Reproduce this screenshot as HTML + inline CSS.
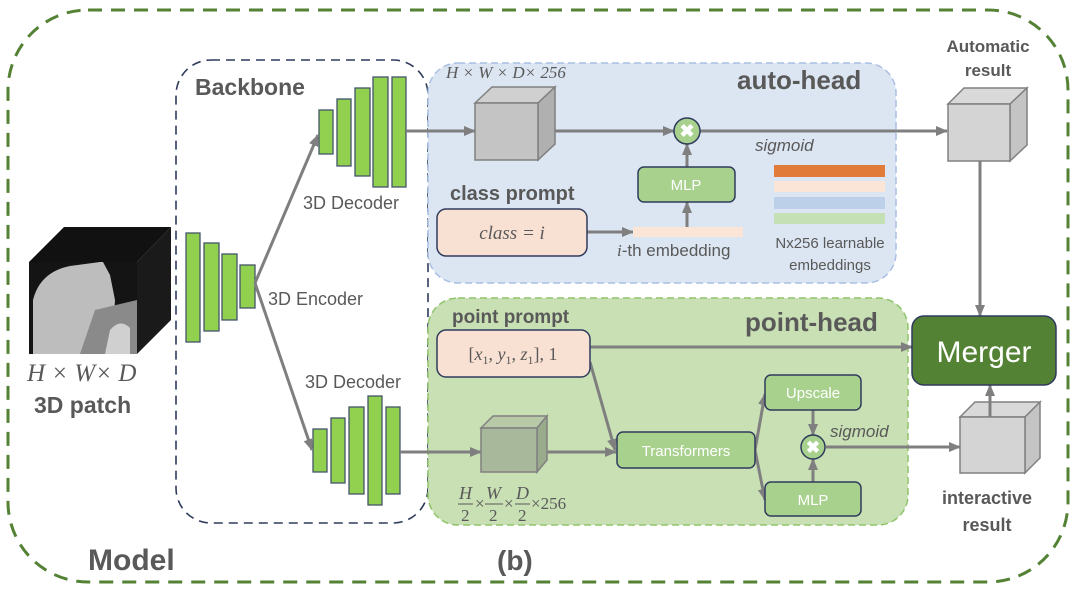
<!DOCTYPE html>
<html><head><meta charset="utf-8"><style>
html,body{margin:0;padding:0;background:#fff;}
svg{display:block;font-family:"Liberation Sans",sans-serif;}
.b{font-weight:bold;fill:#595959;}
.t{fill:#595959;}
.m{font-family:"Liberation Serif",serif;font-style:italic;fill:#595959;}
</style></head><body>
<svg width="1080" height="596" viewBox="0 0 1080 596" xmlns="http://www.w3.org/2000/svg">
<defs>
<marker id="a" markerWidth="12" markerHeight="10" refX="11" refY="5" orient="auto" markerUnits="userSpaceOnUse"><path d="M0,0 L12,5 L0,10 z" fill="#7f7f7f"/></marker>
</defs>
<rect x="8" y="10" width="1060" height="572" rx="80" fill="none" stroke="#548235" stroke-width="3" stroke-dasharray="14,9"/>
<rect x="176" y="60" width="252" height="463" rx="35" fill="none" stroke="#2f3b5c" stroke-width="1.6" stroke-dasharray="9,6"/>
<text x="195" y="95" class="b" font-size="23">Backbone</text>
<rect x="428" y="63" width="468" height="220" rx="30" fill="#dce6f2" stroke="#a9bfe3" stroke-width="1.5" stroke-dasharray="7,4"/>
<rect x="428" y="298" width="480" height="227" rx="30" fill="#c9e0b5" stroke="#8fc46a" stroke-width="1.5" stroke-dasharray="7,4"/>
<text x="737" y="89" class="b" font-size="26">auto-head</text>
<text x="745" y="331" class="b" font-size="26">point-head</text>
<!-- CT cube -->
<polygon points="29,262 64,227 171,227 137,262" fill="#111"/>
<polygon points="137,262 171,227 171,320 137,354" fill="#1a1a1a"/>
<rect x="29" y="262" width="108" height="92" fill="#141414"/>
<path d="M33,354 L33,300 Q40,272 70,266 L100,262 L103,262 L110,275 L115,300 L112,354 Z" fill="#bdbdbd"/>
<path d="M95,310 L137,300 L137,354 L80,354 Z" fill="#8a8a8a"/>
<path d="M110,330 Q120,318 130,328 L130,354 L105,354 Z" fill="#d0d0d0"/>
<text x="27" y="381" class="m" font-size="25">H × W× D</text>
<text x="34" y="413" class="b" font-size="23">3D patch</text>
<g fill="#92d050" stroke="#44546a" stroke-width="1.3">
<rect x="186" y="233" width="14" height="109"/><rect x="204" y="243" width="15" height="88"/>
<rect x="222" y="254" width="15" height="66"/><rect x="240" y="265" width="15" height="43"/>
<rect x="319" y="110" width="14" height="44"/><rect x="337" y="99" width="14" height="67"/>
<rect x="355" y="88" width="15" height="88"/><rect x="373" y="77" width="15" height="110"/><rect x="392" y="77" width="14" height="110"/>
<rect x="313" y="429" width="14" height="43"/><rect x="331" y="418" width="14" height="65"/>
<rect x="349" y="407" width="15" height="87"/><rect x="368" y="396" width="14" height="109"/><rect x="386" y="407" width="14" height="87"/>
</g>
<text x="268" y="305" class="t" font-size="18">3D Encoder</text>
<text x="303" y="209" class="t" font-size="18">3D Decoder</text>
<text x="305" y="388" class="t" font-size="18">3D Decoder</text>
<g stroke="#7f7f7f" stroke-width="3" fill="none">
<line x1="255" y1="283" x2="318" y2="135" marker-end="url(#a)"/>
<line x1="255" y1="283" x2="312" y2="450" marker-end="url(#a)"/>
<line x1="406" y1="131" x2="475" y2="131" marker-end="url(#a)"/>
<line x1="538" y1="131" x2="674" y2="131" marker-end="url(#a)"/>
<line x1="700" y1="131" x2="947" y2="131" marker-end="url(#a)"/>
<line x1="587" y1="232" x2="633" y2="232" marker-end="url(#a)"/>
<line x1="687" y1="227" x2="687" y2="202" marker-end="url(#a)"/>
<line x1="687" y1="167" x2="687" y2="144" marker-end="url(#a)"/>
<line x1="980" y1="161" x2="980" y2="316" marker-end="url(#a)"/>
<line x1="590" y1="347" x2="912" y2="347" marker-end="url(#a)"/>
<line x1="590" y1="362" x2="615" y2="450" marker-end="url(#a)"/>
<line x1="400" y1="452" x2="481" y2="452" marker-end="url(#a)"/>
<line x1="537" y1="452" x2="616" y2="452" marker-end="url(#a)"/>
<line x1="755" y1="450" x2="765" y2="394" marker-end="url(#a)"/>
<line x1="755" y1="450" x2="765" y2="500" marker-end="url(#a)"/>
<line x1="813" y1="410" x2="813" y2="435" marker-end="url(#a)"/>
<line x1="813" y1="482" x2="813" y2="459" marker-end="url(#a)"/>
<line x1="826" y1="447" x2="960" y2="447" marker-end="url(#a)"/>
<line x1="990" y1="417" x2="990" y2="385" marker-end="url(#a)"/>
</g>
<text x="446" y="78" class="m" font-size="17">H × W × D× 256</text>
<polygon points="475,103 492,87 555,87 538,103" fill="#d0d0d0" stroke="#808080" stroke-width="1.5"/>
<polygon points="538,103 555,87 555,144 538,160" fill="#b0b0b0" stroke="#808080" stroke-width="1.5"/>
<rect x="475" y="103" width="63" height="57" fill="#c4c4c4" stroke="#808080" stroke-width="1.5"/>
<circle cx="687" cy="131" r="13" fill="#a9d18e" stroke="#2f3b5c" stroke-width="1.5"/>
<text x="687" y="137" text-anchor="middle" fill="#fff" font-size="18" font-weight="bold">✖</text>
<text x="755" y="151" class="t" font-size="17" font-style="italic">sigmoid</text>
<rect x="638" y="167" width="97" height="35" rx="6" fill="#a9d18e" stroke="#2f3b5c" stroke-width="1.5"/>
<text x="686" y="190" text-anchor="middle" fill="#fff" font-size="15">MLP</text>
<text x="450" y="200" class="b" font-size="20">class prompt</text>
<rect x="437" y="209" width="150" height="47" rx="9" fill="#f8e0d2" stroke="#2f3b5c" stroke-width="1.5"/>
<text x="512" y="239" text-anchor="middle" class="m" font-size="19">class = i</text>
<rect x="633" y="227" width="110" height="10" fill="#fbe5d6"/>
<text x="617" y="256" class="t" font-size="17"><tspan class="m">i</tspan>-th embedding</text>
<rect x="774" y="165" width="111" height="12" fill="#e07b39"/>
<rect x="774" y="181" width="111" height="11" fill="#fbe5d6"/>
<rect x="774" y="197" width="111" height="12" fill="#bdd0e9"/>
<rect x="774" y="213" width="111" height="11" fill="#c5e0b4"/>
<text x="830" y="248" text-anchor="middle" class="t" font-size="15">Nx256 learnable</text>
<text x="830" y="270" text-anchor="middle" class="t" font-size="15">embeddings</text>
<text x="988" y="52" text-anchor="middle" class="b" font-size="17">Automatic</text>
<text x="988" y="76" text-anchor="middle" class="b" font-size="17">result</text>
<polygon points="948,104 964,88 1027,88 1010,104" fill="#d9d9d9" stroke="#808080" stroke-width="1.5"/>
<polygon points="1010,104 1027,88 1027,145 1010,161" fill="#c4c4c4" stroke="#808080" stroke-width="1.5"/>
<rect x="948" y="104" width="62" height="57" fill="#d4d4d4" stroke="#808080" stroke-width="1.5"/>
<text x="452" y="323" class="b" font-size="19">point prompt</text>
<rect x="437" y="330" width="153" height="47" rx="9" fill="#f8e0d2" stroke="#2f3b5c" stroke-width="1.5"/>
<text x="513" y="360" text-anchor="middle" font-family="Liberation Serif,serif" fill="#595959" font-size="18">[<tspan font-style="italic">x</tspan><tspan font-size="12" dy="4">1</tspan><tspan dy="-4">, </tspan><tspan font-style="italic">y</tspan><tspan font-size="12" dy="4">1</tspan><tspan dy="-4">, </tspan><tspan font-style="italic">z</tspan><tspan font-size="12" dy="4">1</tspan><tspan dy="-4">], 1</tspan></text>
<polygon points="481,428 493,416 547,416 537,428" fill="#b8c9a8" stroke="#808080" stroke-width="1.5"/>
<polygon points="537,428 547,416 547,460 537,472" fill="#9aab8c" stroke="#808080" stroke-width="1.5"/>
<rect x="481" y="428" width="56" height="44" fill="#a8b89a" stroke="#808080" stroke-width="1.5"/>
<g font-family="Liberation Serif,serif" fill="#595959">
<text x="459" y="499" font-size="18" font-style="italic">H</text><line x1="458" y1="504" x2="473" y2="504" stroke="#595959"/><text x="461" y="521" font-size="17">2</text>
<text x="475" y="509" font-size="17">×</text>
<text x="486" y="499" font-size="18" font-style="italic">W</text><line x1="485" y1="504" x2="503" y2="504" stroke="#595959"/><text x="489" y="521" font-size="17">2</text>
<text x="504" y="509" font-size="17">×</text>
<text x="516" y="499" font-size="18" font-style="italic">D</text><line x1="515" y1="504" x2="530" y2="504" stroke="#595959"/><text x="518" y="521" font-size="17">2</text>
<text x="531" y="509" font-size="17">×256</text>
</g>
<rect x="617" y="432" width="138" height="36" rx="6" fill="#a9d18e" stroke="#2f3b5c" stroke-width="1.5"/>
<text x="686" y="456" text-anchor="middle" fill="#fff" font-size="15">Transformers</text>
<rect x="765" y="375" width="96" height="35" rx="6" fill="#a9d18e" stroke="#2f3b5c" stroke-width="1.5"/>
<text x="813" y="398" text-anchor="middle" fill="#fff" font-size="15">Upscale</text>
<rect x="765" y="482" width="96" height="34" rx="6" fill="#a9d18e" stroke="#2f3b5c" stroke-width="1.5"/>
<text x="813" y="505" text-anchor="middle" fill="#fff" font-size="15">MLP</text>
<circle cx="813" cy="447" r="12" fill="#a9d18e" stroke="#2f3b5c" stroke-width="1.5"/>
<text x="813" y="453" text-anchor="middle" fill="#fff" font-size="17" font-weight="bold">✖</text>
<text x="830" y="437" class="t" font-size="17" font-style="italic">sigmoid</text>
<rect x="912" y="316" width="144" height="69" rx="12" fill="#548235" stroke="#2f3b5c" stroke-width="1.5"/>
<text x="984" y="362" text-anchor="middle" fill="#fff" font-size="30">Merger</text>
<polygon points="960,417 975,402 1040,402 1025,417" fill="#d9d9d9" stroke="#808080" stroke-width="1.5"/>
<polygon points="1025,417 1040,402 1040,458 1025,473" fill="#c4c4c4" stroke="#808080" stroke-width="1.5"/>
<rect x="960" y="417" width="65" height="56" fill="#d4d4d4" stroke="#808080" stroke-width="1.5"/>
<line x1="990" y1="417" x2="990" y2="392" stroke="#7f7f7f" stroke-width="3"/>
<text x="987" y="504" text-anchor="middle" class="b" font-size="18">interactive</text>
<text x="987" y="531" text-anchor="middle" class="b" font-size="18">result</text>
<text x="88" y="570" class="b" font-size="30">Model</text>
<text x="497" y="570" class="b" font-size="28">(b)</text>
</svg>
</body></html>
